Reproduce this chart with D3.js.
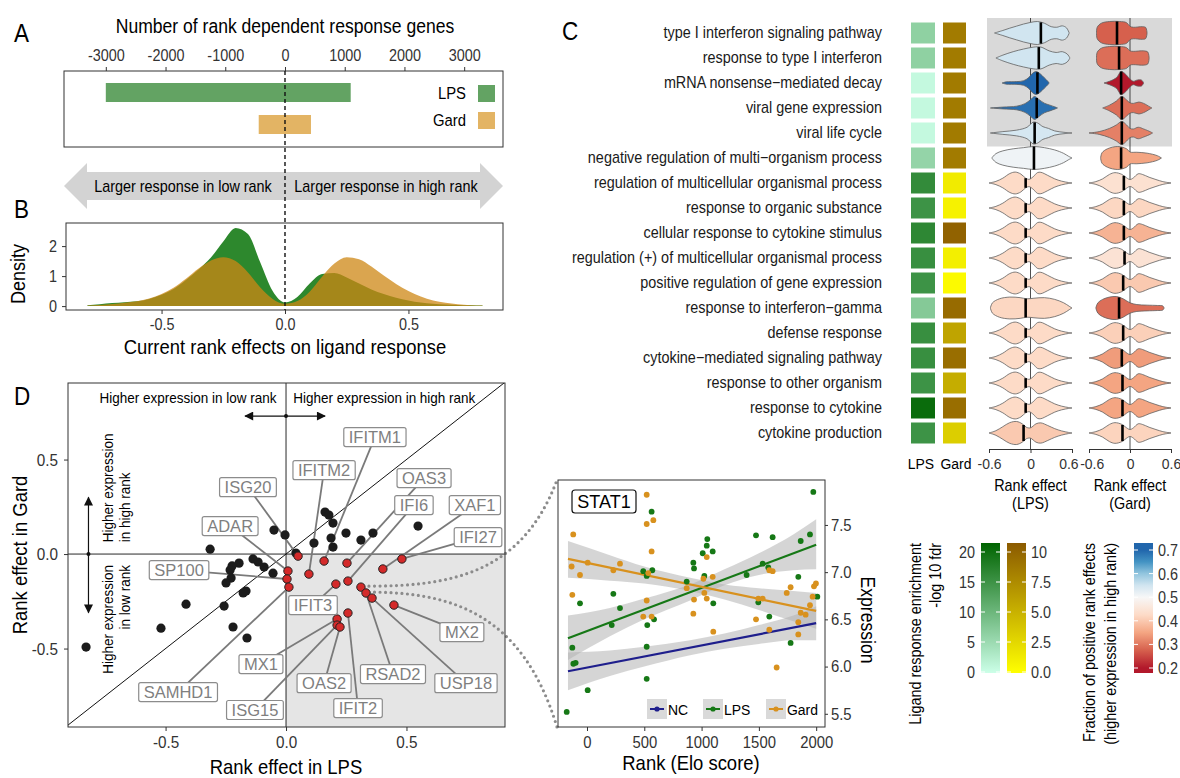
<!DOCTYPE html>
<html>
<head>
<meta charset="utf-8">
<title>Rank effects on ligand response</title>
<script src="https://cdn.jsdelivr.net/npm/d3@7/dist/d3.min.js"></script>
<style>
body { margin: 0; background: white; }
</style>
</head>
<body>
<svg id="fig" width="1180" height="778" font-family="'Liberation Sans',Arial,sans-serif"></svg>
<script>
// ---------- A: number of rank dependent response genes ----------
var countGroups = ["LPS", "Gard"];
var countLow = [-3000, -440];
var countHigh = [1100, 435];
var countTicks = [-3000, -2000, -1000, 0, 1000, 2000, 3000];

// ---------- B: density of current rank effects ----------
var densX = [-0.8,-0.75,-0.7,-0.65,-0.6,-0.55,-0.5,-0.45,-0.4,-0.35,-0.3,-0.25,-0.2,-0.15,-0.1,-0.05,0,
             0.05,0.1,0.15,0.2,0.25,0.3,0.35,0.4,0.45,0.5,0.55,0.6,0.65,0.7,0.75,0.8];
var densLPS = [0.03,0.06,0.10,0.13,0.16,0.24,0.38,0.58,0.88,1.22,1.62,2.15,2.6,2.4,1.45,0.5,0.12,
               0.3,0.75,1.07,1.1,0.95,0.75,0.55,0.4,0.28,0.19,0.12,0.08,0.05,0.04,0.03,0.02];
var densGard = [0.02,0.04,0.07,0.11,0.16,0.25,0.40,0.62,0.92,1.25,1.52,1.63,1.50,1.12,0.62,0.24,0.08,
                0.17,0.48,0.98,1.42,1.63,1.56,1.32,1.02,0.74,0.50,0.32,0.19,0.11,0.06,0.03,0.02];

// ---------- C: GO terms ----------
var goTerms = ["type I interferon signaling pathway", "response to type I interferon",
  "mRNA nonsense\u2212mediated decay", "viral gene expression", "viral life cycle",
  "negative regulation of multi\u2212organism process", "regulation of multicellular organismal process",
  "response to organic substance", "cellular response to cytokine stimulus",
  "regulation (+) of multicellular organismal process", "positive regulation of gene expression",
  "response to interferon\u2212gamma", "defense response", "cytokine\u2212mediated signaling pathway",
  "response to other organism", "response to cytokine", "cytokine production"];
var fdrLPS = [6, 6, 0.8, 0.8, 0.8, 5.5, 15, 14, 15.5, 14.5, 14, 7, 14.5, 14.5, 14, 19, 14];
var fdrGard = [8, 8, 8, 8, 8, 8, 1.2, 0.8, 9.5, 1.0, 0.3, 9, 5.5, 8.8, 5, 8.8, 3];
var fracLPS = [0.55, 0.55, 0.70, 0.69, 0.545, 0.51, 0.425, 0.425, 0.425, 0.425, 0.425, 0.42, 0.425, 0.425, 0.425, 0.425, 0.40];
var fracGard = [0.275, 0.29, 0.2, 0.29, 0.31, 0.35, 0.44, 0.42, 0.37, 0.445, 0.40, 0.29, 0.41, 0.34, 0.35, 0.35, 0.415];
var medLPS = [0.15, 0.12, 0.1, 0.09, 0.06, 0.05, -0.07, -0.07, -0.07, -0.07, -0.07, -0.07, -0.07, -0.07, -0.07, -0.07, -0.1];
var medGard = [-0.19, -0.16, -0.13, -0.12, -0.12, -0.13, -0.09, -0.09, -0.09, -0.08, -0.1, -0.16, -0.1, -0.12, -0.11, -0.11, -0.11];
// violin outlines: [rank effect, relative half width]
var vBiL = [[-0.6,0],[-0.5,0.14],[-0.4,0.42],[-0.3,0.82],[-0.22,0.95],[-0.14,0.78],[-0.07,0.42],[-0.02,0.32],
            [0.04,0.55],[0.1,0.9],[0.15,0.93],[0.25,0.66],[0.35,0.36],[0.45,0.16],[0.55,0.04],[0.6,0]];
var vBiL2 = [[-0.6,0],[-0.5,0.2],[-0.4,0.55],[-0.3,0.9],[-0.2,1.0],[-0.12,0.8],[-0.06,0.5],[0,0.45],
             [0.08,0.8],[0.15,0.88],[0.25,0.65],[0.35,0.38],[0.45,0.18],[0.55,0.05],[0.6,0]];
var vWideL = [[-0.58,0],[-0.55,0.45],[-0.45,0.8],[-0.3,0.95],[-0.15,0.9],[-0.05,0.8],[0.05,0.85],
              [0.2,0.9],[0.35,0.75],[0.48,0.45],[0.56,0.15],[0.6,0]];
var vBiG = [[-0.6,0],[-0.5,0.12],[-0.4,0.36],[-0.3,0.75],[-0.22,0.9],[-0.12,0.75],[-0.05,0.45],[0,0.3],
            [0.05,0.45],[0.12,0.8],[0.18,0.75],[0.28,0.5],[0.38,0.3],[0.48,0.12],[0.6,0]];
var vWedgeG = [[-0.5,0],[-0.47,0.45],[-0.4,0.75],[-0.3,0.95],[-0.2,1.0],[-0.1,0.8],[0,0.45],[0.1,0.3],
               [0.25,0.25],[0.4,0.22],[0.48,0.18],[0.5,0]];
var violinLPS = [
  [[-0.52,0],[-0.4,0.22],[-0.3,0.42],[-0.2,0.6],[-0.1,0.78],[0,0.92],[0.1,1.0],[0.2,0.85],[0.3,0.55],[0.38,0.5],[0.46,0.62],[0.52,0.45],[0.56,0]],
  [[-0.5,0],[-0.4,0.25],[-0.25,0.55],[-0.1,0.78],[0.05,0.95],[0.15,0.95],[0.27,0.62],[0.37,0.48],[0.46,0.55],[0.53,0.35],[0.57,0]],
  [[-0.41,0],[-0.35,0.1],[-0.2,0.12],[-0.1,0.2],[-0.03,0.45],[0.03,0.85],[0.08,1.0],[0.14,0.8],[0.2,0.45],[0.25,0.15],[0.27,0]],
  [[-0.58,0],[-0.4,0.08],[-0.2,0.16],[-0.08,0.38],[0,0.72],[0.06,1.0],[0.12,0.75],[0.2,0.42],[0.28,0.25],[0.35,0.1],[0.39,0]],
  [[-0.58,0],[-0.4,0.12],[-0.2,0.25],[-0.05,0.5],[0.04,0.95],[0.1,0.88],[0.18,0.55],[0.26,0.4],[0.35,0.18],[0.5,0.05],[0.6,0]],
  [[-0.56,0],[-0.5,0.38],[-0.4,0.62],[-0.25,0.8],[-0.1,0.9],[0.05,1.0],[0.2,0.9],[0.35,0.7],[0.48,0.4],[0.55,0.15],[0.6,0]],
  vBiL, vBiL, vBiL, vBiL, vBiL, vWideL, vBiL, vBiL, vBiL, vBiL, vBiL2];
var violinGard = [
  [[-0.49,0],[-0.48,0.5],[-0.42,0.85],[-0.3,1.0],[-0.15,1.0],[-0.05,0.9],[0,0.58],[0.05,0.5],[0.18,0.55],[0.23,0.48],[0.25,0]],
  [[-0.49,0],[-0.48,0.5],[-0.42,0.85],[-0.3,1.0],[-0.15,1.0],[-0.05,0.9],[0,0.62],[0.05,0.58],[0.2,0.62],[0.26,0.52],[0.28,0]],
  [[-0.38,0],[-0.3,0.15],[-0.2,0.45],[-0.13,1.0],[-0.08,0.85],[0,0.35],[0.05,0.15],[0.1,0.25],[0.17,0.25],[0.2,0]],
  [[-0.4,0],[-0.3,0.25],[-0.2,0.6],[-0.12,1.0],[-0.05,0.7],[0,0.45],[0.05,0.4],[0.13,0.52],[0.2,0.4],[0.29,0.1],[0.32,0]],
  [[-0.6,0],[-0.45,0.12],[-0.3,0.4],[-0.2,0.7],[-0.12,1.0],[-0.05,0.7],[0,0.4],[0.05,0.35],[0.12,0.5],[0.2,0.35],[0.3,0.1],[0.33,0]],
  [[-0.43,0],[-0.41,0.45],[-0.33,0.8],[-0.18,1.0],[-0.05,0.8],[0,0.52],[0.1,0.5],[0.25,0.42],[0.4,0.2],[0.46,0]],
  vBiG, vBiG, vBiG, vBiG, vBiG, vWedgeG, vBiG, vBiG, vBiG, vBiG, vBiG];
var fdrTicksLPS = [0, 5, 10, 15, 20];
var fdrTicksGard = [0, 2.5, 5, 7.5, 10];
var fracTicks = [0.2, 0.3, 0.4, 0.5, 0.6, 0.7];

// ---------- D: rank effects per gene ----------
var grayGenes = [[0.162,0.222],[0.178,0.206],[0.195,0.164],[-0.050,0.127],[-0.004,0.101],[0.116,0.058],
  [0.187,0.085],[0.195,0.037],[0.249,0.111],[0.311,0.074],[0.361,0.111],[0.548,0.148],[-0.315,0.026],
  [-0.195,-0.048],[-0.224,-0.063],[-0.232,-0.085],[-0.137,-0.026],[-0.116,-0.042],[-0.091,-0.069],
  [-0.054,-0.101],[-0.228,-0.127],[-0.249,-0.153],[-0.166,-0.196],[-0.178,-0.206],[-0.415,-0.265],
  [-0.257,-0.275],[-0.519,-0.392],[-0.220,-0.386],[-0.162,-0.444],[-0.830,-0.492],[0.041,0.005]];
var redGenes = [[0.050,-0.011],[0.158,-0.037],[0.253,-0.048],[0.481,-0.026],[0.402,-0.079],[0.008,-0.090],
  [0.095,-0.106],[0.004,-0.132],[0.012,-0.175],[0.207,-0.159],[0.257,-0.143],[0.311,-0.175],[0.332,-0.206],
  [0.357,-0.233],[0.448,-0.270],[0.257,-0.312],[0.212,-0.344],[0.212,-0.376],[0.224,-0.386]];
var labelGene = ["ISG20","IFITM1","OAS3","IFI27","XAF1","ADAR","IFITM2","SP100","SAMHD1","IFIT3","IFI6",
                 "RSAD2","USP18","MX2","IFIT2","MX1","ISG15","OAS2"];
var labelIdx = [0, 1, 2, 3, 4, 5, 6, 7, 8, 9, 10, 12, 13, 14, 15, 16, 17, 18];
var labelX = [-0.158, 0.369, 0.573, 0.797, 0.784, -0.232, 0.158, -0.444, -0.448, 0.112, 0.531,
              0.444, 0.747, 0.730, 0.299, -0.104, -0.129, 0.158];
var labelY = [0.354, 0.619, 0.402, 0.090, 0.259, 0.148, 0.444, -0.085, -0.730, -0.270, 0.259,
              -0.635, -0.683, -0.413, -0.815, -0.582, -0.825, -0.683];
var stat1Idx = 11;
var dTicks = [-0.5, 0, 0.5];

// ---------- STAT1 expression vs rank ----------
var eloLPS = [1975,564,-177,-128,-119,-99,-61,6,216,230,288,491,521,526,521,521,570,585,870,928,934,1010,
              1024,1045,1050,1097,1102,1393,1475,1495,1533,1582,1591,1620,1777,1844,1865,1946,2010];
var exprLPS = [7.85,7.64,5.52,6.20,6.03,6.04,6.67,5.75,6.44,6.77,6.62,7.01,6.96,6.44,6.21,5.87,7.02,6.50,6.90,
               7.10,7.04,7.20,6.96,7.28,7.35,7.22,6.67,6.97,7.39,6.68,7.09,7.05,6.53,7.37,6.25,6.95,7.33,7.40,6.74];
var eloGard = [-134,-120,-128,-61,6,230,288,491,521,521,521,535,564,564,579,870,928,934,1016,1024,1045,1045,
               1097,1102,1475,1495,1533,1591,1591,1620,1655,1743,1777,1844,1844,1865,1908,1946,1969,1981,1998];
var exprGard = [7.06,7.40,6.76,6.97,7.10,7.02,7.09,6.53,7.82,7.51,6.70,6.99,7.22,6.53,7.55,6.83,6.56,6.71,6.93,
                6.78,7.16,6.72,6.95,6.37,6.50,6.72,6.72,6.39,7.02,7.01,5.99,6.78,6.84,6.47,6.34,6.57,6.55,6.65,
                6.74,6.85,6.88];
var fitElo = [-166, 2000];
var fitNC = [5.95, 6.46];
var fitLPS = [6.30, 7.29];
var fitGard = [7.14, 6.59];
var bandElo = [-166, 200, 500, 900, 1200, 1500, 1800, 2000];
var bandNC = [[5.75,6.15],[5.90,6.17],[6.00,6.21],[6.12,6.28],[6.19,6.35],[6.24,6.44],[6.28,6.54],[6.28,6.64]];
var bandLPS = [[6.07,6.54],[6.32,6.62],[6.50,6.72],[6.70,6.87],[6.86,7.03],[6.97,7.20],[7.02,7.40],[7.03,7.56]];
var bandGard = [[6.94,7.33],[6.91,7.18],[6.88,7.06],[6.80,6.94],[6.71,6.87],[6.60,6.83],[6.48,6.80],[6.40,6.78]];
var eloTicks = [0, 500, 1000, 1500, 2000];
var exprTicks = [5.5, 6.0, 6.5, 7.0, 7.5];

// ---------- drawing ----------
var svg = d3.select("#fig");
var defs = svg.append("defs");
var NARROW = 0.9; // squeeze Liberation Sans towards a condensed face

function label(x, y, s, size, anchor, rot) {
  var t = svg.append("text").attr("font-size", size).attr("text-anchor", anchor || "middle").text(s);
  if (rot) t.attr("transform", "translate(" + x + "," + y + ") rotate(" + rot + ")");
  else t.attr("x", x).attr("y", y);
  return t;
}
function axisStyle(g, size) {
  g.attr("font-family", null).attr("font-size", size).style("color", "#333");
}
function box(x0, y0, x1, y1) {
  svg.append("rect").attr("x", x0).attr("y", y0).attr("width", x1 - x0).attr("height", y1 - y0)
    .attr("fill", "none").attr("stroke", "#333").attr("stroke-width", 1);
}

// panel letters
label(14, 42, "A", 25, "start");
label(14, 218, "B", 25, "start");
label(562, 40, "C", 25, "start");
label(14, 405, "D", 25, "start");

// ----- A -----
var xA = d3.scaleLinear().domain([-3700, 3650]).range([64, 503]);
var yA = d3.scaleBand().domain(countGroups).range([76.5, 140.5]).paddingInner(0.406).paddingOuter(0.203);
var colGroup = {LPS: "#63a363", Gard: "#e3b464"};
svg.append("g").selectAll("rect").data(countGroups).join("rect")
  .attr("x", function(d, i) { return xA(countLow[i]); })
  .attr("width", function(d, i) { return xA(countHigh[i]) - xA(countLow[i]); })
  .attr("y", function(d) { return yA(d); })
  .attr("height", yA.bandwidth())
  .attr("fill", function(d) { return colGroup[d]; });
box(64, 71, 503, 147);
svg.append("g").attr("transform", "translate(0,71)")
  .call(d3.axisTop(xA).tickValues(countTicks).tickSize(4).tickPadding(6).tickFormat(function(d) { return String(d); }))
  .call(function(g) { g.select(".domain").remove(); axisStyle(g, 16); });
label(285, 33, "Number of rank dependent response genes", 19.5);
countGroups.forEach(function(d) {
  var cy = yA(d) + yA.bandwidth() / 2 + (d === "LPS" ? 1 : -4);
  svg.append("rect").attr("x", 478).attr("y", cy - 8.5).attr("width", 17).attr("height", 17).attr("fill", colGroup[d]);
  label(466, cy + 6, d, 16.5, "end");
});

// arrow between A and B
svg.append("path")
  .attr("d", "M64,186 L87,163 L87,172 L480,172 L480,163 L503,186 L480,209 L480,200 L87,200 L87,209 Z")
  .attr("fill", "#d3d3d3");
label(183, 192, "Larger response in low rank", 16);
label(386, 192, "Larger response in high rank", 16);

// ----- B -----
var xB = d3.scaleLinear().domain([-0.887, 0.883]).range([66, 503]);
var yB = d3.scaleLinear().domain([-0.13, 2.77]).range([310, 223]);
var densArea = function(vals) {
  return d3.area().x(function(d, i) { return xB(densX[i]); }).y0(yB(0))
    .y1(function(d) { return yB(d); }).curve(d3.curveMonotoneX)(vals);
};
svg.append("path").attr("d", densArea(densLPS)).attr("fill", "#2d882d");
svg.append("path").attr("d", densArea(densGard)).attr("fill", "#ce8714").attr("fill-opacity", 0.75);
box(66, 223, 503, 310);
svg.append("g").attr("transform", "translate(0,310)")
  .call(d3.axisBottom(xB).tickValues([-0.5, 0, 0.5]).tickSize(4).tickPadding(5).tickFormat(function(d) { return d.toFixed(1); }))
  .call(function(g) { g.select(".domain").remove(); axisStyle(g, 16); });
svg.append("g").attr("transform", "translate(66,0)")
  .call(d3.axisLeft(yB).tickValues([0, 1, 2]).tickSize(4).tickPadding(5).tickFormat(function(d) { return String(d); }))
  .call(function(g) { g.select(".domain").remove(); axisStyle(g, 16); });
label(25, 274, "Density", 20, "middle", -90);
label(285, 354, "Current rank effects on ligand response", 20.5);

// dashed zero line through A and B
svg.append("line").attr("x1", xA(0)).attr("x2", xA(0)).attr("y1", 71).attr("y2", 310)
  .attr("stroke", "#111").attr("stroke-width", 1.4).attr("stroke-dasharray", "4,3");

// ----- C -----
var yC = d3.scaleBand().domain(goTerms).range([20.5, 445.5]);
var rowC = function(t) { return yC(t) + yC.bandwidth() / 2; };
var colLPS = d3.scaleLinear().domain([0, 20]).range(["#ccffe8", "#006400"]);
var colGard = d3.scaleLinear().domain([0, 10]).range(["#ffff00", "#8b5a00"]);
var fracStops = [0.2, 0.275, 0.35, 0.425, 0.5, 0.55, 0.6, 0.65, 0.7];
var fracCols = ["#b2182b","#d6604d","#f4a582","#fddbc7","#f7f7f7","#d1e5f0","#92c5de","#4393c3","#2166ac"];
var colFrac = d3.scaleLinear().domain(fracStops).range(fracCols);
var xVL = d3.scaleLinear().domain([-0.6, 0.6]).range([989, 1072]);
var xVG = d3.scaleLinear().domain([-0.6, 0.6]).range([1089, 1171]);
var hwMax = 11.5;

svg.append("g").selectAll("text").data(goTerms).join("text")
  .attr("x", 882).attr("y", function(d) { return rowC(d) + 5.5; })
  .attr("text-anchor", "end").attr("font-size", 16).attr("fill", "#1a1a1a").text(function(d) { return d; });
svg.append("g").selectAll("rect").data(goTerms).join("rect")
  .attr("x", 911).attr("width", 24).attr("y", function(d) { return rowC(d) - 10.5; }).attr("height", 21)
  .attr("fill", function(d, i) { return colLPS(fdrLPS[i]); });
svg.append("g").selectAll("rect").data(goTerms).join("rect")
  .attr("x", 943).attr("width", 23).attr("y", function(d) { return rowC(d) - 10.5; }).attr("height", 21)
  .attr("fill", function(d, i) { return colGard(fdrGard[i]); });
label(921, 469, "LPS", 15.5);
label(956, 469, "Gard", 15.5);

// gray highlight behind the interferon / viral rows
svg.append("rect").attr("x", 987).attr("y", yC(goTerms[0]) - 2.5).attr("width", 185)
  .attr("height", yC(goTerms[4]) + yC.bandwidth() + 1 - (yC(goTerms[0]) - 2.5)).attr("fill", "#d9d9d9");

function halfAt(prof, v) {
  for (var k = 1; k < prof.length; k++) {
    if (v <= prof[k][0]) {
      var a = prof[k - 1], b = prof[k];
      return a[1] + (b[1] - a[1]) * (v - a[0]) / (b[0] - a[0]);
    }
  }
  return 0;
}
function drawViolins(shapes, meds, fracs, xs, nudge) {
  svg.append("line").attr("x1", xs(0)).attr("x2", xs(0)).attr("y1", 18).attr("y2", 449)
    .attr("stroke", "#222").attr("stroke-width", 0.8);
  goTerms.forEach(function(t, i) {
    var cy = rowC(t);
    var area = d3.area().x(function(d) { return xs(d[0]); })
      .y0(function(d) { return cy - d[1] * hwMax; }).y1(function(d) { return cy + d[1] * hwMax; })
      .curve(d3.curveCatmullRom);
    svg.append("path").attr("d", area(shapes[i])).attr("fill", colFrac(fracs[i]))
      .attr("stroke", "#5f5f5f").attr("stroke-width", 0.8);
    var h = halfAt(shapes[i], meds[i]) * hwMax;
    svg.append("line").attr("x1", xs(meds[i])).attr("x2", xs(meds[i]))
      .attr("y1", cy - h).attr("y2", cy + h).attr("stroke", "#000").attr("stroke-width", 2.6);
  });
  svg.append("g").attr("transform", "translate(0,449)")
    .call(d3.axisBottom(xs).tickValues([-0.6, 0, 0.6]).tickSize(4).tickSizeOuter(0).tickPadding(5)
      .tickFormat(function(d) { return d === 0 ? "0" : String(d); }))
    .call(function(g) {
      axisStyle(g, 15.5);
      g.selectAll(".tick text").attr("dx", function(d) { return d === 0 ? 0 : (d < 0 ? nudge[0] : nudge[1]); });
    });
}
drawViolins(violinLPS, medLPS, fracLPS, xVL, [0, -4]);
drawViolins(violinGard, medGard, fracGard, xVG, [3, 0]);
label(xVL(0), 491, "Rank effect", 16);
label(xVL(0), 509, "(LPS)", 16);
label(xVG(0), 491, "Rank effect", 16);
label(xVG(0), 509, "(Gard)", 16);

// colour bar legends
function gradient(id, stops) {
  var g = defs.append("linearGradient").attr("id", id).attr("x1", 0).attr("x2", 0).attr("y1", 1).attr("y2", 0);
  stops.forEach(function(s) { g.append("stop").attr("offset", s[0]).attr("stop-color", s[1]); });
}
var legTop = 543, legBot = 673;
function colorbar(x, w, id, scale, ticks, fmt, side) {
  svg.append("rect").attr("x", x).attr("y", legTop).attr("width", w).attr("height", legBot - legTop)
    .attr("fill", "url(#" + id + ")");
  ticks.forEach(function(v) {
    var y = scale(v);
    svg.append("line").attr("x1", x).attr("x2", x + 4).attr("y1", y).attr("y2", y).attr("stroke", "white");
    svg.append("line").attr("x1", x + w - 4).attr("x2", x + w).attr("y1", y).attr("y2", y).attr("stroke", "white");
    if (side === "left") label(x - 6, y + 6, fmt(v), 16, "end").attr("fill", "#333");
    else label(x + w + 5, y + 6, fmt(v), 16, "start").attr("fill", "#333");
  });
}
var yLegLPS = d3.scaleLinear().domain([0, 20]).range([672, 552]);
var yLegGard = d3.scaleLinear().domain([0, 10]).range([672, 552]);
var yLegFrac = d3.scaleLinear().domain([0.2, 0.7]).range([668, 550]);
gradient("gLPS", [[0, colLPS(0)], [1, colLPS(20)]]);
gradient("gGard", [[0, colGard(0)], [1, colGard(10)]]);
gradient("gFrac", fracStops.map(function(v, i) {
  return [(yLegFrac(v) - legBot) / (legTop - legBot), fracCols[i]];
}));
colorbar(981, 19, "gLPS", yLegLPS, fdrTicksLPS, function(v) { return String(v); }, "left");
colorbar(1007, 19, "gGard", yLegGard, fdrTicksGard, function(v) { return v === 10 ? "10" : v.toFixed(1); }, "right");
colorbar(1134, 19, "gFrac", yLegFrac, fracTicks, function(v) { return v.toFixed(1); }, "right");
label(921, legTop, "Ligand response enrichment", 16, "end", -90);
label(941, legTop, "-log 10 fdr", 16, "end", -90);
label(1095, legTop, "Fraction of positive rank effects", 16, "end", -90);
label(1116, legTop, "(higher expression in high rank)", 16, "end", -90);

// ----- D -----
var xD = d3.scaleLinear().domain([-0.905, 0.909]).range([68, 505]);
var yD = d3.scaleLinear().domain([-0.915, 0.905]).range([727, 383]);
defs.append("clipPath").attr("id", "clipD").append("rect")
  .attr("x", 68).attr("y", 383).attr("width", 437).attr("height", 344);
svg.append("rect").attr("x", xD(0)).attr("y", yD(0)).attr("width", 505 - xD(0)).attr("height", 727 - yD(0))
  .attr("fill", "#e5e5e5");
var gD = svg.append("g").attr("clip-path", "url(#clipD)");
gD.append("path").attr("d", d3.line().x(function(d) { return xD(d); }).y(function(d) { return yD(d); })([-0.92, 0.92]))
  .attr("stroke", "#111").attr("stroke-width", 1);
gD.append("line").attr("x1", xD(0)).attr("x2", xD(0)).attr("y1", 383).attr("y2", 727).attr("stroke", "#111").attr("stroke-width", 0.9);
gD.append("line").attr("x1", 68).attr("x2", 505).attr("y1", yD(0)).attr("y2", yD(0)).attr("stroke", "#111").attr("stroke-width", 0.9);

// dotted zoom lines to STAT1
var sp = redGenes[stat1Idx];
var sx = xD(sp[0]) + 8, sy = yD(sp[1]);
svg.append("path").attr("d", "M" + sx + "," + (sy - 1) + " C450," + (sy - 1) + " 522,574 557,480")
  .attr("fill", "none").attr("stroke", "#8c8c8c").attr("stroke-width", 3.2).attr("stroke-dasharray", "0,5.5").attr("stroke-linecap", "round");
svg.append("path").attr("d", "M" + sx + "," + (sy + 5) + " C450," + (sy + 5) + " 522,612 557,727")
  .attr("fill", "none").attr("stroke", "#8c8c8c").attr("stroke-width", 3.2).attr("stroke-dasharray", "0,5.5").attr("stroke-linecap", "round");

// label leader lines
labelGene.forEach(function(g, i) {
  var p = redGenes[labelIdx[i]];
  svg.append("line").attr("x1", xD(p[0])).attr("y1", yD(p[1])).attr("x2", xD(labelX[i])).attr("y2", yD(labelY[i]))
    .attr("stroke", "#7a7a7a").attr("stroke-width", 1.8);
});
svg.append("g").selectAll("circle").data(grayGenes).join("circle")
  .attr("cx", function(d) { return xD(d[0]); }).attr("cy", function(d) { return yD(d[1]); })
  .attr("r", 4.6).attr("fill", "#1c1c1c");
svg.append("g").selectAll("circle").data(redGenes).join("circle")
  .attr("cx", function(d) { return xD(d[0]); }).attr("cy", function(d) { return yD(d[1]); })
  .attr("r", 4.2).attr("fill", "#d42a2a").attr("stroke", "#222").attr("stroke-width", 1);
labelGene.forEach(function(g, i) {
  var cx = xD(labelX[i]), cy = yD(labelY[i]);
  var grp = svg.append("g");
  var r = grp.append("rect");
  var t = grp.append("text").attr("class", "reg").attr("x", cx).attr("y", cy + 6).attr("text-anchor", "middle")
    .attr("font-size", 16.5).attr("fill", "#7f7f7f").text(g);
  var w = t.node().getComputedTextLength() + 10;
  r.attr("x", cx - w / 2).attr("y", cy - 9.5).attr("width", w).attr("height", 19).attr("rx", 2)
    .attr("fill", "white").attr("stroke", "#8c8c8c").attr("stroke-width", 1.2);
});
box(68, 383, 505, 727);
svg.append("g").attr("transform", "translate(0,727)")
  .call(d3.axisBottom(xD).tickValues(dTicks).tickSize(4).tickPadding(5).tickFormat(function(d) { return d.toFixed(1); }))
  .call(function(g) { g.select(".domain").remove(); axisStyle(g, 17); });
svg.append("g").attr("transform", "translate(68,0)")
  .call(d3.axisLeft(yD).tickValues(dTicks).tickSize(4).tickPadding(6).tickFormat(function(d) { return d.toFixed(1); }))
  .call(function(g) { g.select(".domain").remove(); axisStyle(g, 17); });
label(xD(0), 774, "Rank effect in LPS", 20.5);
label(27, 555, "Rank effect in Gard", 20.5, "middle", -90);

// direction arrows
defs.append("marker").attr("id", "head").attr("viewBox", "0 0 10 10").attr("refX", 9).attr("refY", 5)
  .attr("markerUnits", "userSpaceOnUse").attr("markerWidth", 10).attr("markerHeight", 9)
  .attr("orient", "auto-start-reverse")
  .append("path").attr("d", "M0,0 L10,5 L0,10 Z").attr("fill", "#111");
svg.append("line").attr("x1", xD(-0.17)).attr("x2", xD(0.162)).attr("y1", yD(0.73)).attr("y2", yD(0.73))
  .attr("stroke", "#111").attr("stroke-width", 1.2).attr("marker-start", "url(#head)").attr("marker-end", "url(#head)");
svg.append("circle").attr("cx", xD(0)).attr("cy", yD(0.73)).attr("r", 2).attr("fill", "#111");
svg.append("line").attr("x1", xD(-0.82)).attr("x2", xD(-0.82)).attr("y1", yD(0.30)).attr("y2", yD(-0.31))
  .attr("stroke", "#111").attr("stroke-width", 1.2).attr("marker-start", "url(#head)").attr("marker-end", "url(#head)");
svg.append("circle").attr("cx", xD(-0.82)).attr("cy", yD(0)).attr("r", 2).attr("fill", "#111");
label(xD(-0.04), 403, "Higher expression in low rank", 15, "end");
label(xD(0.03), 403, "Higher expression in high rank", 15, "start");
label(113, yD(0.063), "Higher expression", 15, "start", -90);
label(130, yD(0.063), "in high rank", 15, "start", -90);
label(113, yD(-0.058), "Higher expression", 15, "end", -90);
label(130, yD(-0.058), "in low rank", 15, "end", -90);

// ----- STAT1 inset -----
var xS = d3.scaleLinear().domain([-253, 2077]).range([558, 825]);
var yS = d3.scaleLinear().domain([5.36, 7.976]).range([727, 480]);
var colNC = "#1e1e8c", colL = "#167816", colG = "#d8911e";
defs.append("clipPath").attr("id", "clipS").append("rect")
  .attr("x", 558).attr("y", 480).attr("width", 267).attr("height", 247);
var gS = svg.append("g").attr("clip-path", "url(#clipS)");
var bandArea = d3.area().x(function(d, i) { return xS(bandElo[i]); })
  .y0(function(d) { return yS(d[0]); }).y1(function(d) { return yS(d[1]); }).curve(d3.curveMonotoneX);
[bandNC, bandLPS, bandGard].forEach(function(b) {
  gS.append("path").attr("d", bandArea(b)).attr("fill", "#b3b3b3").attr("fill-opacity", 0.55);
});
var fitLine = d3.line().x(function(d, i) { return xS(fitElo[i]); }).y(function(d) { return yS(d); });
gS.append("path").attr("d", fitLine(fitNC)).attr("stroke", colNC).attr("stroke-width", 2.2).attr("fill", "none");
gS.append("path").attr("d", fitLine(fitLPS)).attr("stroke", colL).attr("stroke-width", 2.2).attr("fill", "none");
gS.append("path").attr("d", fitLine(fitGard)).attr("stroke", colG).attr("stroke-width", 2.2).attr("fill", "none");
gS.append("g").selectAll("circle").data(eloLPS).join("circle")
  .attr("cx", function(d) { return xS(d); }).attr("cy", function(d, i) { return yS(exprLPS[i]); })
  .attr("r", 2.9).attr("fill", colL);
gS.append("g").selectAll("circle").data(eloGard).join("circle")
  .attr("cx", function(d) { return xS(d); }).attr("cy", function(d, i) { return yS(exprGard[i]); })
  .attr("r", 2.9).attr("fill", colG);
box(558, 480, 825, 727);
svg.append("g").attr("transform", "translate(0,727)")
  .call(d3.axisBottom(xS).tickValues(eloTicks).tickSize(4).tickPadding(5).tickFormat(function(d) { return String(d); }))
  .call(function(g) { g.select(".domain").remove(); axisStyle(g, 16.5); });
svg.append("g").attr("transform", "translate(825,0)")
  .call(d3.axisRight(yS).tickValues(exprTicks).tickSize(3).tickPadding(3).tickFormat(function(d) { return d.toFixed(1); }))
  .call(function(g) { g.select(".domain").remove(); axisStyle(g, 16.5); });
label(691, 770, "Rank (Elo score)", 20.5);
label(861, 620, "Expression", 19.5, "middle", 90);
svg.append("rect").attr("x", 572).attr("y", 490).attr("width", 64).attr("height", 23).attr("rx", 3)
  .attr("fill", "white").attr("stroke", "#111").attr("stroke-width", 1.2);
label(604, 508, "STAT1", 18).attr("class", "reg");
// legend
[["NC", colNC, 647], ["LPS", colL, 703], ["Gard", colG, 766]].forEach(function(k) {
  svg.append("rect").attr("x", k[2]).attr("y", 699).attr("width", 20).attr("height", 20).attr("fill", "#d9d9d9");
  svg.append("line").attr("x1", k[2] + 3).attr("x2", k[2] + 17).attr("y1", 709).attr("y2", 709)
    .attr("stroke", k[1]).attr("stroke-width", 2);
  svg.append("circle").attr("cx", k[2] + 10).attr("cy", 709).attr("r", 2.6).attr("fill", k[1]);
  label(k[2] + 21, 715, k[0], 15.5, "start");
});

// narrow face: squeeze every text (except the gene label boxes) horizontally about its anchor
svg.selectAll("text").filter(function() { return !this.classList.contains("reg"); }).each(function() {
  var t = d3.select(this), tr = t.attr("transform");
  if (tr) t.attr("transform", tr + " scale(" + NARROW + ",1)");
  else {
    var x = +t.attr("x") || 0, y = +t.attr("y") || 0;
    t.attr("transform", "translate(" + x + "," + y + ") scale(" + NARROW + ",1) translate(" + (-x) + "," + (-y) + ")");
  }
});
</script>
</body>
</html>
